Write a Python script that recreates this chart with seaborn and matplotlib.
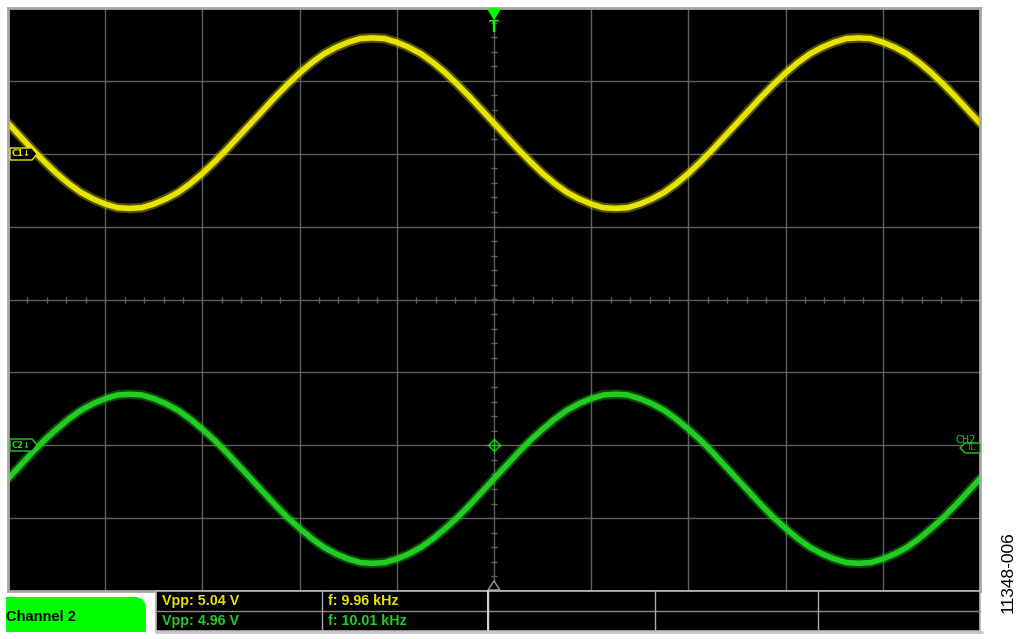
import numpy as np
import pandas as pd
import matplotlib
matplotlib.use("Agg")
import matplotlib.pyplot as plt
import seaborn as sns
from matplotlib.patches import Polygon, Rectangle, PathPatch
from matplotlib.path import Path

# sample times in screen divisions (10 div across)
time_div = np.arange(-5, 5.001, 0.125)

# traces, in vertical divisions
ch1_div = [2.42, 2.24, 2.06, 1.89, 1.73, 1.59, 1.47, 1.38, 1.31, 1.26,
           1.25, 1.26, 1.31, 1.38, 1.47, 1.59, 1.73, 1.89, 2.06, 2.24,
           2.42, 2.60, 2.78, 2.95, 3.11, 3.25, 3.37, 3.46, 3.53, 3.58,
           3.59, 3.58, 3.53, 3.46, 3.37, 3.25, 3.11, 2.95, 2.78, 2.60,
           2.42, 2.24, 2.06, 1.89, 1.73, 1.59, 1.47, 1.38, 1.31, 1.26,
           1.25, 1.26, 1.31, 1.38, 1.47, 1.59, 1.73, 1.89, 2.06, 2.24,
           2.42, 2.60, 2.78, 2.95, 3.11, 3.25, 3.37, 3.46, 3.53, 3.58,
           3.59, 3.58, 3.53, 3.46, 3.37, 3.25, 3.11, 2.95, 2.78, 2.60,
           2.42]
ch2_div = [-2.46, -2.28, -2.10, -1.93, -1.78, -1.64, -1.52, -1.43, -1.36, -1.31,
           -1.30, -1.31, -1.36, -1.43, -1.52, -1.64, -1.78, -1.93, -2.10, -2.28,
           -2.46, -2.64, -2.82, -2.99, -3.14, -3.28, -3.40, -3.49, -3.56, -3.61,
           -3.62, -3.61, -3.56, -3.49, -3.40, -3.28, -3.14, -2.99, -2.82, -2.64,
           -2.46, -2.28, -2.10, -1.93, -1.78, -1.64, -1.52, -1.43, -1.36, -1.31,
           -1.30, -1.31, -1.36, -1.43, -1.52, -1.64, -1.78, -1.93, -2.10, -2.28,
           -2.46, -2.64, -2.82, -2.99, -3.14, -3.28, -3.40, -3.49, -3.56, -3.61,
           -3.62, -3.61, -3.56, -3.49, -3.40, -3.28, -3.14, -2.99, -2.82, -2.64,
           -2.46]

channels = ["CH1", "CH2"]
vpp_labels = ["Vpp: 5.04 V", "Vpp: 4.96 V"]
freq_labels = ["f: 9.96 kHz", "f: 10.01 kHz"]
tab_label = "Channel 2"
fig_id = "11348-006"

yellow = "#e8e400"
green = "#22cc22"
tab_green = "#00ff00"
grid_gray = "#5e5e5e"

df = pd.DataFrame({
    "time": np.concatenate([time_div, time_div]),
    "volts": ch1_div + ch2_div,
    "channel": ["CH1"] * len(time_div) + ["CH2"] * len(time_div),
})

sns.set_style("dark")
plt.rcParams["font.family"] = ["Liberation Sans", "DejaVu Sans"]

fig = plt.figure(figsize=(10.24, 6.39), dpi=100)
fig.patch.set_facecolor("white")

# scope screen
ax = fig.add_axes([8 / 1024, 48 / 639, 972 / 1024, 583 / 639])
ax.set_facecolor("black")
ax.set_xlim(-5, 5)
ax.set_ylim(-4, 4)
ax.set_xticks(range(-5, 6))
ax.set_yticks(range(-4, 5))
ax.grid(True, color=grid_gray, lw=1.0)
ax.tick_params(length=0, labelbottom=False, labelleft=False)
for s in ax.spines.values():
    s.set_color("#a8a8a8")
    s.set_linewidth(2)

# minor ticks on the centre cross
minor_x = np.arange(-4.8, 4.9, 0.2)
minor_y = np.arange(-3.8, 3.9, 0.2)
ax.plot(minor_x, np.zeros_like(minor_x), ls="none", marker="|", ms=5,
        mew=1, color=grid_gray)
ax.plot(np.zeros_like(minor_y), minor_y, ls="none", marker="_", ms=5,
        mew=1, color=grid_gray)

pal = {"CH1": yellow, "CH2": green}
sns.lineplot(data=df, x="time", y="volts", hue="channel", palette=pal,
             estimator=None, sort=False, lw=7, alpha=0.35, legend=False, ax=ax)
sns.lineplot(data=df, x="time", y="volts", hue="channel", palette=pal,
             estimator=None, sort=False, lw=4, legend=False, ax=ax)
ax.set_xlabel("")
ax.set_ylabel("")

# trigger position marker on ch2 level
ax.plot(0, -2.0, marker="D", ms=6, mfc="none", mec=green, mew=1)
ax.plot(0, -2.0, marker="+", ms=12, mec=green, mew=0.8)

# overlay in pixel coordinates
fg = fig.add_axes([0, 0, 1, 1], zorder=5)
fg.set_xlim(0, 1024)
fg.set_ylim(639, 0)
fg.axis("off")
fg.patch.set_alpha(0)

# trigger marker top
fg.add_patch(Polygon([[488, 9], [500, 9], [494, 19]], closed=True,
                     fc=tab_green, ec=tab_green))
fg.text(494, 27, "T", color=tab_green, fontsize=12, fontweight="bold",
        ha="center", va="center")
# trigger marker bottom
fg.add_patch(Polygon([[488, 590], [500, 590], [494, 581]], closed=True,
                     fc="black", ec="#9a9a9a", lw=1))

# channel tags
fg.add_patch(Polygon([[10, 148], [32, 148], [37, 154], [32, 160], [10, 160]],
                     closed=True, fc="black", ec=yellow, lw=1))
fg.text(12, 154, "C1↓", color=yellow, fontsize=6, va="center", ha="left",
        fontweight="bold", family=["DejaVu Sans"])
fg.add_patch(Polygon([[10, 439], [32, 439], [37, 445], [32, 451], [10, 451]],
                     closed=True, fc="black", ec=green, lw=1))
fg.text(12, 445, "C2↓", color=green, fontsize=6, va="center", ha="left",
        fontweight="bold", family=["DejaVu Sans"])
fg.text(955, 440, "CH2", color=green, fontsize=7, va="center", ha="left",
        family=["DejaVu Sans"])
fg.add_patch(Polygon([[960, 448], [965, 443], [980, 443], [980, 453], [965, 453]],
                     closed=True, fc="black", ec=green, lw=1))
fg.text(967, 448, "TL", color=green, fontsize=5.5, va="center", ha="left",
        family=["DejaVu Sans"])

# channel tab with rounded top right corner
verts = [(6, 632), (6, 597), (134, 597), (146, 597), (146, 609), (146, 632), (6, 632)]
codes = [Path.MOVETO, Path.LINETO, Path.LINETO, Path.CURVE3, Path.CURVE3,
         Path.LINETO, Path.CLOSEPOLY]
fg.add_patch(PathPatch(Path(verts, codes), fc=tab_green, ec="none"))
fg.text(6, 617, tab_label, color="black", fontsize=10.5, fontweight="bold",
        va="center", ha="left")

# measurement table
fg.add_patch(Rectangle((156, 591), 824, 40, fc="black", ec="#b8b8b8", lw=1.2))
fg.plot([156, 980], [611, 611], color="#8a8a8a", lw=1)
for xd in [322, 488, 655, 818]:
    fg.plot([xd, xd], [591, 631], color="#a8a8a8", lw=1)
fg.plot([488, 488], [591, 632], color="#d0d0d0", lw=1.5)
fg.plot([156, 982], [632, 632], color="#c4c4c4", lw=2)

row_y = [601, 621]
row_col = [yellow, green]
for vl, fl, yy, cc in zip(vpp_labels, freq_labels, row_y, row_col):
    fg.text(162, yy, vl, color=cc, fontsize=10.3, fontweight="bold",
            va="center", ha="left")
    fg.text(328, yy, fl, color=cc, fontsize=10.3, fontweight="bold",
            va="center", ha="left")

fg.text(1008, 572, fig_id, color="black", fontsize=12.5, rotation=90,
        ha="center", va="center")

fig.savefig("out.png", dpi=100, facecolor="white")
